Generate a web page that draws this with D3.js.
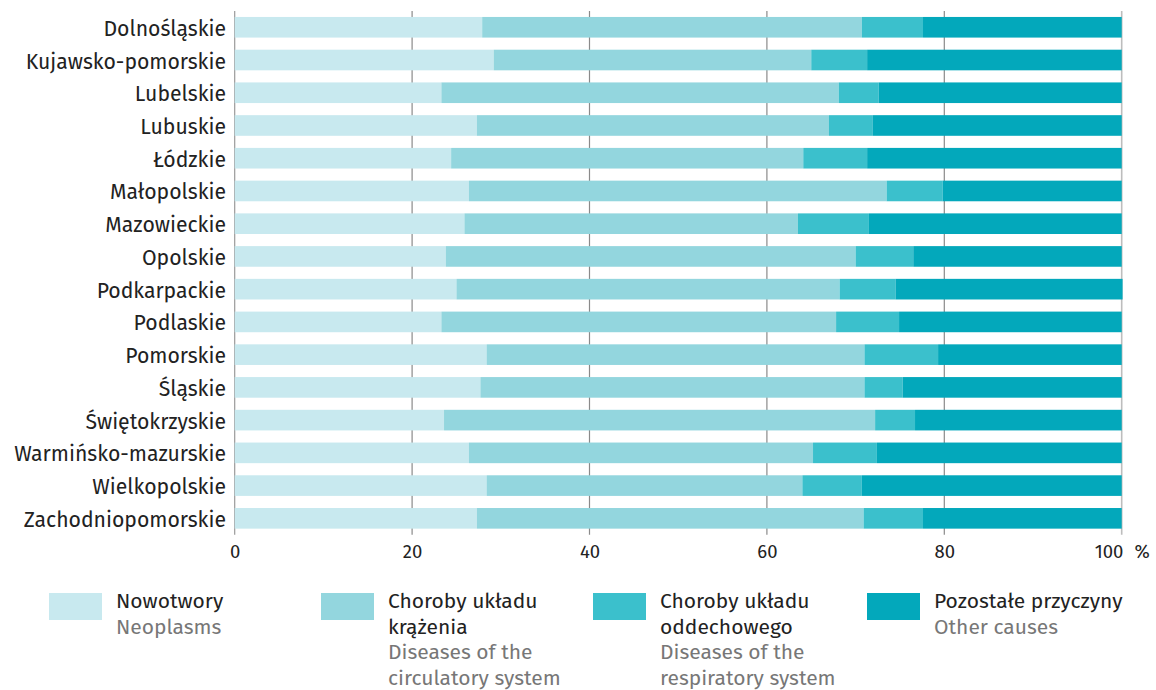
<!DOCTYPE html>
<html>
<head>
<meta charset="utf-8">
<script src="https://cdn.jsdelivr.net/npm/d3@7"></script>
<style>
  html, body { margin: 0; padding: 0; background: #fff; }
  svg { display: block; font-family: "Fira Sans", "Open Sans", "Noto Sans", sans-serif; }
</style>
</head>
<body>
<svg id="chart" width="1156" height="690"></svg>
<script>
// Voivodeships, top to bottom
const regions = [
  "Dolnośląskie", "Kujawsko-pomorskie", "Lubelskie", "Lubuskie", "Łódzkie",
  "Małopolskie", "Mazowieckie", "Opolskie", "Podkarpackie", "Podlaskie",
  "Pomorskie", "Śląskie", "Świętokrzyskie", "Warmińsko-mazurskie",
  "Wielkopolskie", "Zachodniopomorskie"
];

// Share of deaths by cause, %
const neoplasms   = [27.9, 29.2, 23.3, 27.3, 24.4, 26.4, 25.9, 23.8, 25.0, 23.3, 28.4, 27.7, 23.6, 26.4, 28.4, 27.3];
const circulatory = [42.8, 35.8, 44.8, 39.7, 39.7, 47.1, 37.6, 46.2, 43.2, 44.5, 42.6, 43.3, 48.6, 38.8, 35.6, 43.6];
const respiratory = [ 6.9,  6.3,  4.5,  4.9,  7.2,  6.3,  8.0,  6.5,  6.3,  7.1,  8.3,  4.3,  4.5,  7.2,  6.7,  6.7];
const other       = [22.4, 28.7, 27.4, 28.1, 28.7, 20.2, 28.5, 23.5, 25.6, 25.1, 20.7, 24.7, 23.3, 27.6, 29.3, 22.4];

const xTicks = [0, 20, 40, 60, 80, 100];
const xTickLabels = ["0", "20", "40", "60", "80", "100"];
const unitLabel = "%";

const seriesKeys = ["neoplasms", "circulatory", "respiratory", "other"];
const seriesColors = ["#c8e9ef", "#93d6de", "#3bc0cc", "#03a8bb"];
const legendLabels = [
  { pl: ["Nowotwory"], en: ["Neoplasms"] },
  { pl: ["Choroby układu", "krążenia"], en: ["Diseases of the", "circulatory system"] },
  { pl: ["Choroby układu", "oddechowego"], en: ["Diseases of the", "respiratory system"] },
  { pl: ["Pozostałe przyczyny"], en: ["Other causes"] }
];

const rows = regions.map((r, i) => ({
  region: r,
  neoplasms: neoplasms[i],
  circulatory: circulatory[i],
  respiratory: respiratory[i],
  other: other[i]
}));

const FONT = "\"Fira Sans\", \"Open Sans\", \"Noto Sans\", sans-serif";
const svg = d3.select("#chart");

const x = d3.scaleLinear().domain([0, 100]).range([234.7, 1121.7]);
const y = d3.scaleBand().domain(regions).range([10.9, 534.7])
  .paddingInner(0.37).paddingOuter(0.185);

const stacked = d3.stack().keys(seriesKeys)(rows);

// grid lines (behind bars)
svg.append("g").selectAll("line").data(xTicks).join("line")
  .attr("x1", d => x(d)).attr("x2", d => x(d))
  .attr("y1", y.range()[0]).attr("y2", y.range()[1])
  .attr("stroke", d => d === 100 ? "#bdbdbd" : (d === 0 ? "#9a9a9a" : "#8a8a8a"))
  .attr("stroke-width", d => d === 100 ? 1.6 : 1.2);

// stacked bars
svg.append("g").selectAll("g").data(stacked).join("g")
  .attr("fill", (d, i) => seriesColors[i])
  .selectAll("rect").data(d => d).join("rect")
  .attr("x", d => x(d[0]))
  .attr("width", d => x(d[1]) - x(d[0]))
  .attr("y", d => y(d.data.region))
  .attr("height", y.bandwidth());

// category labels
svg.append("g").selectAll("text").data(regions).join("text")
  .attr("x", 226)
  .attr("y", d => y(d) + y.bandwidth() / 2 + 8.5)
  .attr("text-anchor", "end")
  .attr("font-size", 21.2)
  .attr("fill", "#222")
  .text(d => d);

// x axis tick labels; the last one carries the unit and is centred as a whole
const xAxis = svg.append("g").attr("transform", `translate(0, ${y.range()[1]})`)
  .call(d3.axisBottom(x).tickValues(xTicks).tickSize(0).tickPadding(0)
    .tickFormat((d, i) => xTickLabels[i]));
xAxis.select(".domain").remove();
xAxis.selectAll("text")
  .attr("y", 23.5)
  .attr("dy", null)
  .attr("font-size", 18.5)
  .attr("fill", "#222")
  .style("font-family", FONT);
xAxis.selectAll(".tick").filter(d => d === 100).select("text")
  .append("tspan").attr("dx", 11).text(unitLabel);

// legend
const legendX = [49, 321, 593, 867];
const legend = svg.append("g").selectAll("g").data(legendLabels).join("g")
  .attr("transform", (d, i) => `translate(${legendX[i]}, 593)`);
legend.append("rect")
  .attr("width", 53).attr("height", 27)
  .attr("fill", (d, i) => seriesColors[i]);
legend.each(function(d) {
  const g = d3.select(this);
  const lines = d.pl.map(t => ({ t, c: "#222" })).concat(d.en.map(t => ({ t, c: "#777" })));
  g.selectAll("text").data(lines).join("text")
    .attr("x", 67)
    .attr("y", (l, j) => 15 + j * 25.5)
    .attr("font-size", 21)
    .attr("fill", l => l.c)
    .text(l => l.t);
});
</script>
</body>
</html>
